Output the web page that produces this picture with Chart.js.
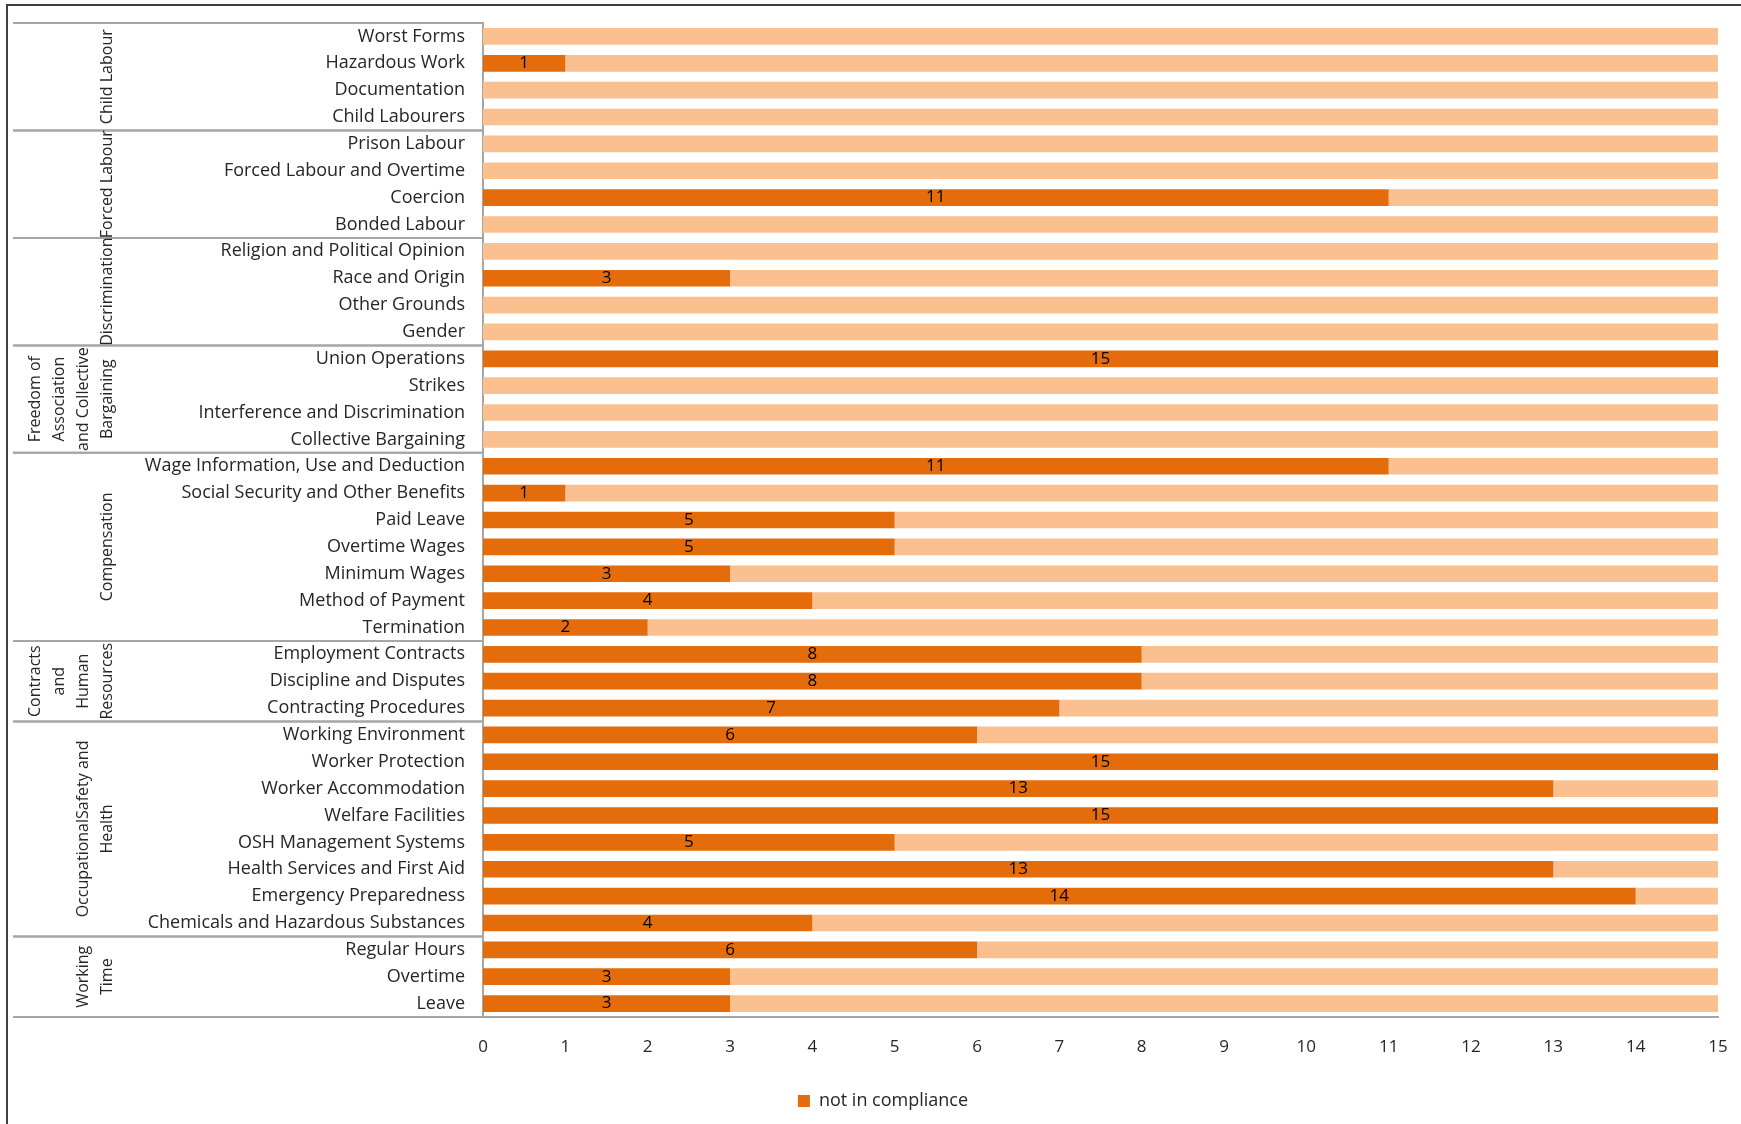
<!DOCTYPE html>
<html>
<head>
<meta charset="utf-8">
<script src="https://cdn.jsdelivr.net/npm/chart.js@4/dist/chart.umd.min.js"></script>
<style>
  html, body { margin: 0; padding: 0; background: #fff; overflow: hidden; }
  #wrap { position: relative; width: 1741px; height: 1124px; }
  #chart { display: block; }
  #frame { position: absolute; left: 6px; top: 4px; right: 0; bottom: 0;
           border-top: 2px solid #404040; border-left: 2px solid #404040; pointer-events: none; }
</style>
</head>
<body>
<div id="wrap">
  <canvas id="chart" width="1741" height="1124"></canvas>
  <div id="frame"></div>
</div>
<script>
var categories = [
    'Worst Forms', 'Hazardous Work', 'Documentation', 'Child Labourers',
    'Prison Labour', 'Forced Labour and Overtime', 'Coercion', 'Bonded Labour',
    'Religion and Political Opinion', 'Race and Origin', 'Other Grounds', 'Gender',
    'Union Operations', 'Strikes', 'Interference and Discrimination', 'Collective Bargaining',
    'Wage Information, Use and Deduction', 'Social Security and Other Benefits', 'Paid Leave',
    'Overtime Wages', 'Minimum Wages', 'Method of Payment', 'Termination',
    'Employment Contracts', 'Discipline and Disputes', 'Contracting Procedures',
    'Working Environment', 'Worker Protection', 'Worker Accommodation', 'Welfare Facilities',
    'OSH Management Systems', 'Health Services and First Aid', 'Emergency Preparedness',
    'Chemicals and Hazardous Substances',
    'Regular Hours', 'Overtime', 'Leave'
];

var notInCompliance = [
    0, 1, 0, 0,
    0, 0, 11, 0,
    0, 3, 0, 0,
    15, 0, 0, 0,
    11, 1, 5, 5, 3, 4, 2,
    8, 8, 7,
    6, 15, 13, 15, 5, 13, 14, 4,
    6, 3, 3
];

var inCompliance = [
    15, 14, 15, 15,
    15, 15, 4, 15,
    15, 12, 15, 15,
    0, 15, 15, 15,
    4, 14, 10, 10, 12, 11, 13,
    7, 7, 8,
    9, 0, 2, 0, 10, 2, 1, 11,
    9, 12, 12
];

// group names (one entry per text line) and how many rows each group covers
var groupLines = [
    ['Child Labour'],
    ['Forced Labour'],
    ['Discrimination'],
    ['Freedom of', 'Association', 'and Collective', 'Bargaining'],
    ['Compensation'],
    ['Contracts', 'and', 'Human', 'Resources'],
    ['OccupationalSafety and', 'Health'],
    ['Working', 'Time']
];
var groupSizes = [4, 4, 4, 4, 7, 3, 8, 3];

var FONT = "'Open Sans', sans-serif";
var DARK = '#E46C0A';
var LIGHT = '#FAC090';
var LINE = '#A6A6A6';

var groupPlugin = {
    id: 'groups',
    afterDraw: function (chart) {
        var ctx = chart.ctx;
        var y = chart.scales.y;
        var area = chart.chartArea;
        var half = (y.getPixelForValue(1) - y.getPixelForValue(0)) / 2;
        var tableLeft = 13;
        var idx = 0;
        ctx.save();
        ctx.strokeStyle = LINE;
        ctx.lineWidth = 2;
        ctx.fillStyle = '#262626';
        ctx.font = '16px ' + FONT;
        groupSizes.forEach(function (n, g) {
            var top = y.getPixelForValue(idx) - half;
            var bottom = y.getPixelForValue(idx + n - 1) + half;
            ctx.beginPath();
            ctx.moveTo(tableLeft, top);
            ctx.lineTo(area.left, top);
            ctx.moveTo(tableLeft, bottom);
            ctx.lineTo(area.left, bottom);
            ctx.stroke();

            var lines = groupLines[g];
            var mid = (top + bottom) / 2;
            lines.forEach(function (t, k) {
                var x = 107 - (lines.length - 1 - k) * 24;
                ctx.save();
                ctx.translate(x, mid);
                ctx.rotate(-Math.PI / 2);
                ctx.textAlign = 'center';
                ctx.textBaseline = 'middle';
                ctx.fillText(t, 0, 0);
                ctx.restore();
            });
            idx += n;
        });
        ctx.restore();
    }
};

var valuePlugin = {
    id: 'values',
    afterDatasetsDraw: function (chart) {
        var ctx = chart.ctx;
        var meta = chart.getDatasetMeta(0);
        ctx.save();
        ctx.fillStyle = '#000';
        ctx.font = '17px ' + FONT;
        ctx.textAlign = 'center';
        ctx.textBaseline = 'middle';
        meta.data.forEach(function (bar, i) {
            var v = notInCompliance[i];
            if (v > 0) {
                ctx.fillText(String(v), (bar.x + bar.base) / 2, bar.y);
            }
        });
        ctx.restore();
    }
};

var ctx = document.getElementById('chart').getContext('2d');
var myChart = new Chart(ctx, {
    type: 'bar',
    data: {
        labels: categories,
        datasets: [{
            label: 'not in compliance',
            data: notInCompliance,
            backgroundColor: DARK,
            barPercentage: 0.62,
            categoryPercentage: 1
        }, {
            label: 'in compliance',
            data: inCompliance,
            backgroundColor: LIGHT,
            barPercentage: 0.62,
            categoryPercentage: 1
        }]
    },
    options: {
        indexAxis: 'y',
        responsive: false,
        animation: false,
        layout: {
            padding: { left: 48, top: 23, right: 23, bottom: 4 }
        },
        scales: {
            x: {
                stacked: true,
                min: 0,
                max: 15,
                ticks: {
                    stepSize: 1,
                    padding: 2,
                    color: '#262626',
                    font: { family: FONT, size: 17 }
                },
                grid: { display: false, drawTicks: true, tickLength: 18 },
                border: { display: true, color: LINE, width: 2 },
                afterFit: function (scale) { scale.height = 65; }
            },
            y: {
                stacked: true,
                ticks: {
                    padding: 2,
                    autoSkip: false,
                    color: '#262626',
                    font: { family: FONT, size: 18 }
                },
                grid: { display: false, drawTicks: true, tickLength: 16 },
                border: { display: true, color: LINE, width: 2 },
                afterFit: function (scale) { scale.width = 435; }
            }
        },
        plugins: {
            legend: {
                position: 'bottom',
                labels: {
                    boxWidth: 12,
                    boxHeight: 12,
                    padding: 10,
                    color: '#262626',
                    font: { family: FONT, size: 18 },
                    filter: function (item) { return item.datasetIndex === 0; }
                }
            },
            tooltip: { enabled: false }
        }
    },
    plugins: [groupPlugin, valuePlugin]
});
</script>
</body>
</html>
